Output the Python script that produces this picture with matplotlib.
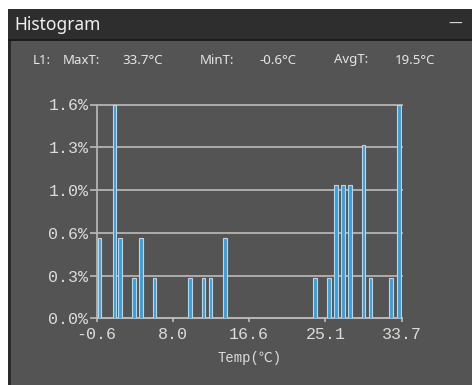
import matplotlib
matplotlib.use("Agg")
import matplotlib.pyplot as plt
from matplotlib.patches import Rectangle

# histogram data
temps = [-0.3, 1.4, 2.05, 3.6, 4.4, 5.9, 9.9, 11.4, 12.2, 13.8,
         23.95, 25.5, 26.3, 27.1, 27.9, 29.4, 30.2, 32.5, 33.4]
pcts = [0.6, 1.6, 0.6, 0.3, 0.6, 0.3, 0.3, 0.3, 0.3, 0.6,
        0.3, 0.3, 1.0, 1.0, 1.0, 1.3, 0.3, 0.3, 1.6]
xticks = [-0.6, 7.975, 16.55, 25.125, 33.7]
xlabels = ["-0.6", "8.0", "16.6", "25.1", "33.7"]
yticks = [0.0, 0.32, 0.64, 0.96, 1.28, 1.6]
ylabels = ["0.0%", "0.3%", "0.6%", "1.0%", "1.3%", "1.6%"]

W, H = 472, 385
fig = plt.figure(figsize=(W / 100, H / 100), dpi=100)
fig.patch.set_facecolor("white")

def px(x0, y0, w, h):
    # pixel box (top-left origin) -> figure fraction
    return [x0 / W, 1 - (y0 + h) / H, w / W, h / H]

def box(x0, y0, w, h, c):
    b = px(x0, y0, w, h)
    fig.patches.append(Rectangle((b[0], b[1]), b[2], b[3], transform=fig.transFigure,
                                 facecolor=c, edgecolor="none", zorder=-5))

# window frame
box(8, 9, W - 8, H - 9, "#545454")
box(8, 9, 2.5, H - 9, "#2a2a2a")
box(8, 9, W - 8, 31, "#2e2e2e")
box(8, 39, W - 8, 1.5, "#1c1c1c")

fig.text(14 / W, 1 - 25 / H, "Histogram", color="#f0f0f0", fontsize=12.5,
         family="Noto Sans", va="center", ha="left")
fig.text(455 / W, 1 - 24 / H, "\u2014", color="#dddddd", fontsize=10,
         family="DejaVu Sans", va="center", ha="center")

stats = [(33, "L1:"), (63, "MaxT:"), (122, "33.7\u00b0C"), (200, "MinT:"),
         (260, "-0.6\u00b0C"), (334, "AvgT:"), (395, "19.5\u00b0C")]
for sx, s in stats:
    fig.text(sx / W, 1 - 60 / H, s, color="#e6e6e6", fontsize=9.5,
             family="Noto Sans", va="center", ha="left")

ax = fig.add_axes(px(96.7, 104.5, 305, 213.8))
ax.set_zorder(5)
ax.set_facecolor("none")
ax.set_xlim(-0.6, 33.7)
ax.set_ylim(0, 1.6)

for y in yticks[1:]:
    ax.plot([-0.6, 33.7], [y, y], color="#b4b4b4", lw=1.3, zorder=1, clip_on=False)

ax.bar(temps, pcts, width=0.4, color="#2ba3e8", edgecolor="#d0d0d0", linewidth=0.8, zorder=3)

for s in ["top", "right"]:
    ax.spines[s].set_visible(False)
ax.spines["left"].set_color("#b4b4b4")
ax.spines["left"].set_linewidth(1.3)
ax.spines["bottom"].set_color("#c0c0c0")
ax.spines["bottom"].set_linewidth(1.3)

mono = ["Liberation Mono", "DejaVu Sans Mono", "Noto Sans CJK SC"]
ax.set_xticks(xticks)
ax.set_xticklabels(xlabels, family=mono, fontsize=12, color="#dcdcdc")
ax.set_yticks(yticks)
ax.set_yticklabels(ylabels, family=mono, fontsize=12, color="#dcdcdc")
ax.tick_params(axis="y", length=5, width=1.3, color="#b4b4b4", pad=1)
ax.tick_params(axis="x", length=3, width=1.3, color="#b4b4b4", pad=3)
ax.set_xlabel("Temp(\u2103)", family=mono, fontsize=10, color="#dcdcdc", labelpad=7)

fig.savefig("out.png", dpi=100, facecolor=fig.get_facecolor())
